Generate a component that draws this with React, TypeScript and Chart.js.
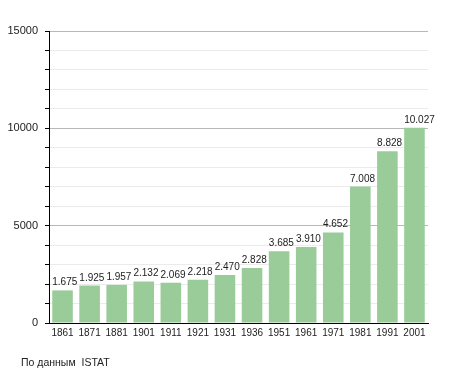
import React, { useEffect, useRef } from "react";
import { Chart, registerables } from "chart.js";

Chart.register(...registerables);

const years = ["1861", "1871", "1881", "1901", "1911", "1921", "1931", "1936", "1951", "1961", "1971", "1981", "1991", "2001"];
const population = [1675, 1925, 1957, 2132, 2069, 2218, 2470, 2828, 3685, 3910, 4652, 7008, 8828, 10027];
const footerText = "По данным  ISTAT";

const FONT = "'Liberation Sans', Arial, sans-serif";

const fmt = (v: number) => {
  const s = String(v);
  return s.length > 3 ? s.slice(0, s.length - 3) + "." + s.slice(s.length - 3) : s;
};

const valueLabels = {
  id: "valueLabels",
  afterDatasetsDraw(chart: any) {
    const ctx = chart.ctx;
    const meta = chart.getDatasetMeta(0);
    ctx.save();
    ctx.font = "10px " + FONT;
    ctx.fillStyle = "#222";
    ctx.textAlign = "left";
    ctx.textBaseline = "alphabetic";
    meta.data.forEach((bar: any, i: number) => {
      const left = bar.x - bar.width / 2;
      ctx.fillText(fmt(population[i]), left, bar.y - 5);
    });
    ctx.restore();
  },
};

export default function App() {
  const ref = useRef<HTMLCanvasElement>(null);
  useEffect(() => {
    document.body.style.margin = "0";
    const chart = new Chart(ref.current!, {
      type: "bar",
      data: {
        labels: years,
        datasets: [
          {
            data: population,
            backgroundColor: "#99cc99",
            borderWidth: 0,
            categoryPercentage: 1,
            barPercentage: 0.76,
          },
        ],
      },
      options: {
        animation: false,
        responsive: false,
        maintainAspectRatio: false,
        layout: { padding: { top: 31, right: 27, left: 0, bottom: 0 } },
        plugins: { legend: { display: false }, tooltip: { enabled: false } },
        scales: {
          x: {
            grid: { display: false, drawTicks: false },
            border: { color: "#000", width: 1 },
            ticks: {
              color: "#222",
              font: { size: 10, family: FONT },
              padding: 4,
              maxRotation: 0,
              autoSkip: false,
            },
            afterFit: (s: any) => {
              s.height = 50;
            },
          },
          y: {
            min: 0,
            max: 15000,
            border: { color: "#000", width: 1 },
            grid: {
              color: (c: any) => (c.tick && c.tick.value % 5000 === 0 ? "#b8b8b8" : "#ebebeb"),
              tickColor: "#000",
              tickLength: 4,
            },
            ticks: {
              stepSize: 1000,
              color: "#222",
              font: { size: 11, family: FONT },
              padding: 7,
              callback: (v: any) => (Number(v) % 5000 === 0 ? String(v) : ""),
            },
            afterFit: (s: any) => {
              s.width = 49;
            },
          },
        },
      },
      plugins: [valueLabels],
    });
    return () => chart.destroy();
  }, []);
  return (
    <div style={{ position: "relative", width: 455, height: 373 }}>
      <canvas ref={ref} width={455} height={373} style={{ position: "absolute", left: 0, top: 0 }} />
      <div
        style={{
          position: "absolute",
          left: 21,
          top: 356,
          fontSize: 10.5,
          fontFamily: FONT,
          color: "#222",
          whiteSpace: "pre",
        }}
      >
        {footerText}
      </div>
    </div>
  );
}
